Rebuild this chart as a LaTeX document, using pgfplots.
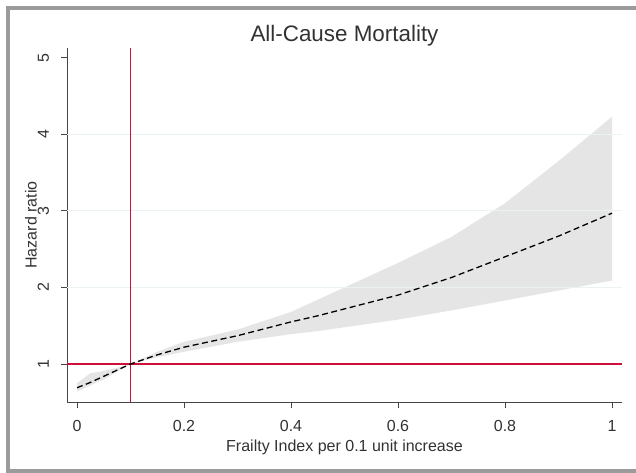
\documentclass[border=0pt]{standalone}
\usepackage{fontspec}
\setmainfont{Liberation Sans}
\usepackage{pgfplots}
\usepackage{pgfplotstable}
\pgfplotsset{compat=1.18}
\usepgfplotslibrary{fillbetween}

\definecolor{framegray}{RGB}{155,155,155}
\definecolor{cifill}{RGB}{229,229,229}
\definecolor{refred}{RGB}{205,16,58}
\definecolor{gridcol}{RGB}{234,242,243}
\definecolor{axcol}{RGB}{70,70,70}
\definecolor{txtcol}{RGB}{50,50,50}

% x = frailty index, lo/est/hi = hazard ratio and 95% CI
\pgfplotstableread{
x     lo    est   hi
0.000 0.64  0.69  0.75
0.025 0.72  0.76  0.88
0.050 0.80  0.84  0.91
0.075 0.90  0.92  0.95
0.100 1.00  1.00  1.00
0.150 1.09  1.12  1.16
0.200 1.16  1.22  1.29
0.300 1.29  1.37  1.45
0.400 1.39  1.55  1.68
0.450 1.43  1.63  1.84
0.500 1.48  1.72  2.00
0.600 1.58  1.90  2.32
0.700 1.70  2.13  2.66
0.800 1.83  2.40  3.10
0.900 1.96  2.67  3.65
1.000 2.09  2.97  4.23
}\hrdata

\begin{document}
\begin{tikzpicture}
\begin{axis}[
  at={(67pt,70pt)}, anchor=south west,
  scale only axis, width=555pt, height=354pt,
  xmin=-0.0187, xmax=1.0187, ymin=0.504, ymax=5.127,
  axis x line*=bottom, axis y line*=left,
  axis line style={draw=axcol, line width=0.9pt},
  xtick={0,0.2,0.4,0.6,0.8,1}, xticklabels={0,0.2,0.4,0.6,0.8,1},
  ytick={1,2,3,4,5}, yticklabels={1,2,3,4,5},
  tick align=outside, major tick length=6pt,
  tick style={draw=axcol, line width=0.9pt},
  ticklabel style={font=\fontsize{16}{19}\selectfont, text=txtcol},
  xticklabel shift=8.5pt, yticklabel shift=8.5pt,
  yticklabel style={rotate=90, anchor=south},
]
\addplot[gridcol, line width=0.9pt] coordinates {(-0.0187,2) (1.0187,2)};
\addplot[gridcol, line width=0.9pt] coordinates {(-0.0187,3) (1.0187,3)};
\addplot[gridcol, line width=0.9pt] coordinates {(-0.0187,4) (1.0187,4)};
\addplot[name path=hi, draw=none] table[x=x, y=hi] {\hrdata};
\addplot[name path=lo, draw=none] table[x=x, y=lo] {\hrdata};
\addplot[cifill, draw=none] fill between[of=hi and lo];
\addplot[refred, line width=1.1pt] coordinates {(-0.0187,1) (1.0187,1)};
\addplot[refred, line width=1.1pt] coordinates {(0.1,0.504) (0.1,5.127)};
\addplot[black, line width=1.3pt, dash pattern=on 6pt off 3.5pt] table[x=x, y=est] {\hrdata};
\end{axis}
\node[anchor=base, text=txtcol, font=\fontsize{22.4}{26}\selectfont] at (344.5pt,430.3pt) {All-Cause Mortality};
\node[anchor=base, text=txtcol, font=\fontsize{16}{19}\selectfont] at (344.5pt,21pt) {Frailty Index per 0.1 unit increase};
\node[anchor=base, rotate=90, text=txtcol, font=\fontsize{16}{19}\selectfont] at (36.7pt,247pt) {Hazard ratio};
\begin{scope}
\clip (0,0) rectangle (636pt,472pt);
\draw[framegray, line width=4pt] (8pt,1.5pt) rectangle (700pt,464pt);
\end{scope}
\pgfresetboundingbox
\useasboundingbox (0,0) rectangle (636pt,472pt);
\end{tikzpicture}
\end{document}
